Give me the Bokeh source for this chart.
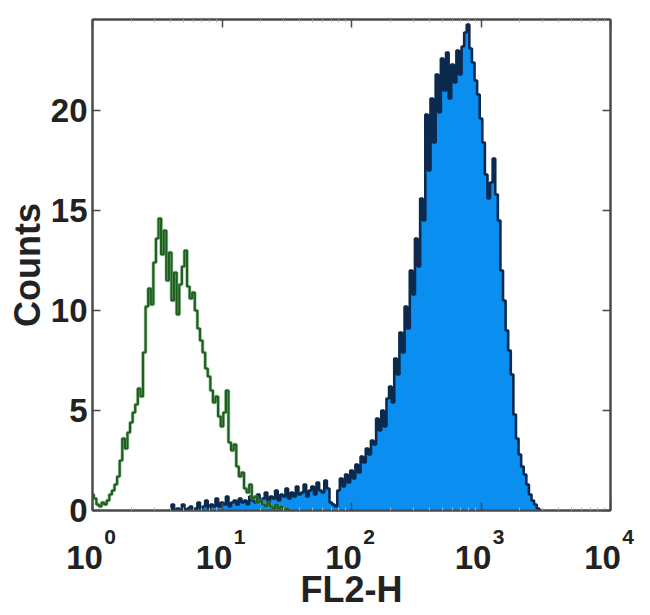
import numpy as np
from bokeh.plotting import figure
from bokeh.models import LogAxis, LinearAxis, Range1d, FixedTicker
from bokeh.embed import file_html
from bokeh.resources import INLINE

# ---- data -------------------------------------------------------------
BINS_PER_DECADE = 50          # histogram channels per decade of FL2-H

green_first_channel = 0       # isotype control (open, green)
green_counts = [
    0.8, 0.6, 0.3, 0.2, 0.4, 0.3, 0.5, 0.8, 1.0, 1.3,
    1.7, 2.5, 3.6, 3.1, 3.9, 4.4, 4.9, 5.3, 6.1, 5.7,
    7.9, 10.2, 11.1, 10.3, 12.4, 13.6, 14.6, 12.8, 14.0, 11.5,
    12.9, 10.5, 11.9, 9.8, 11.3, 12.2, 13.0, 11.2, 10.6, 10.9,
    10.0, 9.1, 8.5, 7.9, 7.1, 6.7, 6.0, 5.4, 5.7, 4.7,
    4.2, 4.9, 6.0, 3.4, 3.0, 3.3, 2.2, 1.7, 1.9, 1.1,
    0.9, 1.3, 0.6, 0.7, 0.4, 0.5, 0.3, 0.2, 0.4, 0.2,
    0.1, 0.3, 0.1, 0.2, 0.0, 0.1, 0.0,
]

blue_first_channel = 30       # stained sample (filled, blue)
blue_counts = [
    0.0, 0.3, 0.0, 0.1, 0.0, 0.3, 0.0, 0.1, 0.2, 0.0,
    0.1, 0.4, 0.1, 0.2, 0.5, 0.1, 0.3, 0.2, 0.6, 0.2,
    0.4, 0.3, 0.7, 0.2, 0.4, 0.5, 0.3, 0.6, 0.4, 0.5,
    0.3, 0.7, 0.5, 0.4, 0.8, 0.5, 0.6, 0.9, 0.4, 0.7,
    0.6, 1.0, 0.5, 0.8, 0.7, 1.1, 0.6, 0.9, 0.7, 1.2,
    0.8, 0.9, 1.3, 0.7, 1.0, 1.2, 0.8, 1.4, 1.0, 0.9,
    1.5, 1.1, 0.4, 0.3, 0.2, 1.0, 1.6, 1.2, 1.8, 1.4,
    2.0, 1.6, 2.3, 1.9, 2.7, 2.4, 3.1, 2.8, 3.5, 3.3,
    4.6, 4.0, 5.0, 4.2, 5.6, 6.2, 5.4, 7.6, 6.8, 8.9,
    7.9, 10.2, 9.1, 12.0, 10.8, 13.6, 12.2, 15.6, 14.5, 19.8,
    17.0, 20.6, 18.4, 21.8, 19.9, 22.6, 21.0, 22.9, 20.6, 22.3,
    21.4, 23.0, 21.8, 23.2, 23.9, 24.3, 23.1, 22.4, 21.5, 20.8,
    19.6, 18.4, 16.8, 15.6, 16.4, 17.6, 15.8, 14.5, 12.0, 10.5,
    9.0, 8.0, 6.8, 4.8, 3.6, 2.8, 2.2, 1.8, 1.3, 0.8,
    0.5, 0.3, 0.1, 0.0,
]

x_ticks = [1, 10, 100, 1000, 10000]
x_tick_base = ["10", "10", "10", "10", "10"]
x_tick_exponents = ["0", "1", "2", "3", "4"]
y_ticks = [0, 5, 10, 15, 20]
x_label = "FL2-H"
y_label = "Counts"


def step_outline(first_channel, counts):
    """Histogram outline built from channel edges (log-spaced)."""
    xs, ys = [], []
    for k, c in enumerate(counts):
        ch = first_channel + k
        left = 10 ** ((ch - 0.5) / BINS_PER_DECADE)
        right = 10 ** ((ch + 0.5) / BINS_PER_DECADE)
        if k == 0:
            xs.append(left); ys.append(0.0)
        xs += [left, right]
        ys += [c, c]
    xs.append(xs[-1]); ys.append(0.0)
    return xs, ys


FONT = "Liberation Sans"
TXT = "#222222"
FRAME = "#4a4a4a"
MINOR = [m * d for d in [1, 10, 100, 1000] for m in range(2, 10)]

# labels are centred on the ticks; no-break spaces nudge the "10" a little
# left and the exponent to the right
PAD_BASE = "\u00a0\u2009"
PAD_EXP = "\u00a0" * 6

p = figure(width=645, height=612, x_axis_type="log",
           x_range=Range1d(1, 10000), y_range=Range1d(0, 24.55),
           output_backend="svg", toolbar_location=None,
           min_border_left=92, min_border_right=35,
           min_border_top=19, min_border_bottom=102)
p.background_fill_color = "white"
p.border_fill_color = "white"
p.grid.visible = False
p.outline_line_color = FRAME
p.outline_line_width = 2

# stained sample: filled blue with dark outline
bx, by = step_outline(blue_first_channel, blue_counts)
p.patch(bx, by, fill_color="#0a8ef0", line_color=None)
p.line(bx, by, line_color="#0b2a4e", line_width=2.6)

# control: open green outline
gx, gy = step_outline(green_first_channel, green_counts)
p.line(gx, gy, line_color="#6fae6f", line_width=3.6, line_alpha=0.6)
p.line(gx, gy, line_color="#1e5e1e", line_width=2.2)

# bottom axis: ticks only
xa = p.xaxis[0]
xa.ticker = FixedTicker(ticks=x_ticks, minor_ticks=MINOR)
xa.major_label_overrides = {t: "" for t in x_ticks}
xa.major_label_standoff = 0

# left axis
ya = p.yaxis[0]
ya.ticker = FixedTicker(ticks=y_ticks)
ya.axis_label = y_label

for ax in (xa, ya):
    ax.axis_line_color = FRAME
    ax.axis_line_width = 2
    ax.major_tick_line_color = FRAME
    ax.major_tick_line_width = 1.5
    ax.major_tick_in = 8
    ax.major_tick_out = 0
    ax.minor_tick_line_color = "#b0b0b0"
    ax.minor_tick_in = 3
    ax.minor_tick_out = 0
    ax.major_label_text_font = FONT
    ax.major_label_text_font_size = "33px"
    ax.major_label_text_font_style = "bold"
    ax.major_label_text_color = TXT
    ax.axis_label_text_font = FONT
    ax.axis_label_text_font_size = "36px"
    ax.axis_label_text_font_style = "bold"
    ax.axis_label_text_color = TXT

ya.major_label_standoff = 5
ya.axis_label_standoff = 0

# exponent labels (raised, to the right of each tick)
exp_axis = LogAxis(ticker=FixedTicker(ticks=x_ticks, minor_ticks=[]))
exp_axis.major_label_overrides = {t: PAD_EXP + s for t, s in zip(x_ticks, x_tick_exponents)}
exp_axis.major_label_text_font_size = "21px"
exp_axis.major_label_standoff = 14

# "10" base labels + axis title
base_axis = LogAxis(ticker=FixedTicker(ticks=x_ticks, minor_ticks=[]))
base_axis.major_label_overrides = {t: s + PAD_BASE for t, s in zip(x_ticks, x_tick_base)}
base_axis.major_label_text_font_size = "33px"
base_axis.major_label_standoff = -12
base_axis.axis_label = x_label
base_axis.axis_label_standoff = -10
base_axis.axis_label_text_font = FONT
base_axis.axis_label_text_font_size = "36px"
base_axis.axis_label_text_font_style = "bold"
base_axis.axis_label_text_color = TXT

for ax in (exp_axis, base_axis):
    ax.axis_line_color = None
    ax.major_tick_line_color = None
    ax.minor_tick_line_color = None
    ax.major_tick_in = 0
    ax.major_tick_out = 0
    ax.minor_tick_in = 0
    ax.minor_tick_out = 0
    ax.major_label_text_font = FONT
    ax.major_label_text_font_style = "bold"
    ax.major_label_text_color = TXT

p.add_layout(exp_axis, "below")
p.add_layout(base_axis, "below")

# mirrored top and right axes (ticks only, no labels)
top = LogAxis(ticker=FixedTicker(ticks=x_ticks, minor_ticks=MINOR))
top.major_label_overrides = {t: "" for t in x_ticks}
right = LinearAxis(ticker=FixedTicker(ticks=y_ticks))
right.major_label_overrides = {t: "" for t in y_ticks}
for ax in (top, right):
    ax.axis_line_color = FRAME
    ax.axis_line_width = 2
    ax.major_tick_line_color = FRAME
    ax.major_tick_line_width = 1.5
    ax.major_tick_in = 8
    ax.major_tick_out = 0
    ax.minor_tick_line_color = "#b0b0b0"
    ax.minor_tick_in = 3
    ax.minor_tick_out = 0
    ax.major_label_standoff = 0
p.add_layout(top, "above")
p.add_layout(right, "right")

open("out.html", "w").write(file_html(p, INLINE))
